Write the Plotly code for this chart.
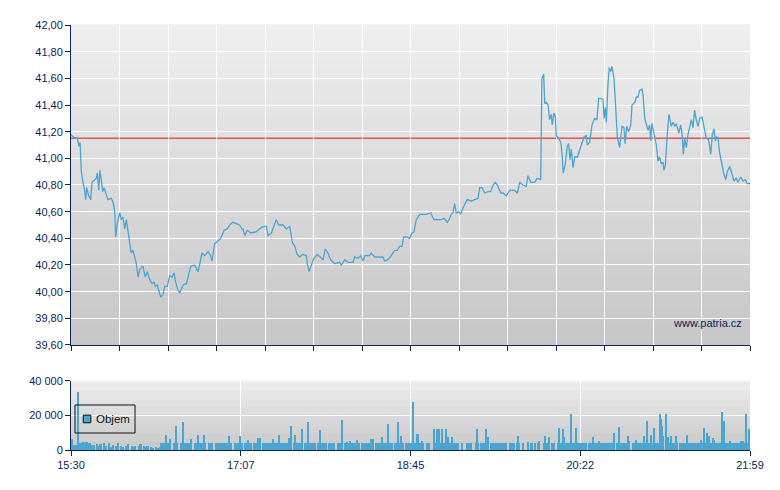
import plotly.graph_objects as go

# ---------------- data ----------------
# price: minutes after 15:30 and price
price_time = [
    0, 1.1, 3.6, 4.6, 5.2, 5.9, 6.9, 7.8, 8.4, 9.0,
    10.1, 11.3, 12.0, 14.5, 15.1, 15.9, 16.6, 17.4, 18.2, 18.9,
    20.2, 21.2, 23.1, 24.1, 25.0, 25.6, 26.5, 27.9, 28.8, 29.8,
    30.8, 31.7, 32.7, 33.6, 34.5, 35.5, 36.5, 37.4, 38.4, 39.4,
    41.2, 42.6, 43.7, 45.1, 46.4, 47.6, 48.3, 49.4, 50.2, 51.4,
    52.7, 53.7, 55.2, 56.5, 57.9, 59.0, 60.0, 61.3, 62.3, 64.2,
    66.1, 67.0, 68.6, 70.9, 72.8, 73.7, 75.0, 76.6, 78.5, 80.0,
    80.8, 82.3, 83.8, 85.8, 87.7, 89.5, 90.9, 92.8, 94.7, 96.6,
    98.0,
    98.5, 99.5, 101.0, 103.0, 106.2, 109.0, 110.6, 111.9, 112.9, 114.8,
    116.3, 117.6, 119.0, 121.5, 123.3, 125.3, 126.8, 128.2, 129.6, 131.0,
    132.9, 134.8, 135.4, 136.4, 137.7, 139.2, 141.1, 143.1, 144.4, 145.7,
    147.2, 148.8, 151.1, 153.9, 154.9, 156.8, 158.7, 161.6, 162.5, 164.4,
    166.0, 167.3, 168.3, 171.1, 172.0, 174.0, 178.7, 179.7, 181.6, 183.5,
    185.4, 186.9, 188.3, 189.6, 190.6, 192.1, 194.0, 195.4,
    196.5, 197.8, 199.8, 201.7, 203.6, 206.1, 207.9, 210.3, 212.1, 213.7,
    215.6, 217.0, 217.9, 218.8, 219.8, 220.7, 222.1, 223.3, 224.6, 227.0,
    229.3, 231.3, 233.2, 234.1, 235.5, 237.0, 238.9, 240.4, 241.8, 243.1,
    244.6, 246.2, 247.5, 249.4, 251.3, 254.2, 255.7, 257.1, 258.9, 260.8,
    261.8, 263.4, 265.6, 267.1, 269.1, 269.8, 270.8, 271.4, 272.3, 273.3,
    274.2, 275.2, 275.7, 276.7, 277.5, 278.0, 279.4, 280.6, 281.3, 282.0,
    283.2, 284.3, 285.1, 285.9, 286.6, 287.6, 288.6, 290.1, 291.4, 292.8,
    293.9, 295.2, 295.8, 297.1, 298.5, 300.0, 301.3, 302.3, 303.8, 304.8,
    305.4, 306.1, 306.7, 307.6, 308.4, 309.2, 309.9, 311.1, 312.1, 313.0,
    314.3, 315.7, 316.8, 317.4, 318.4, 319.5, 320.7, 321.4, 323.0, 323.9,
    324.8, 325.8, 327.1, 327.7, 328.7, 329.6, 330.6, 331.5, 332.1, 332.8,
    334.0, 335.3, 336.3, 337.2, 338.2, 339.2, 339.7, 340.5, 341.6, 342.6,
    343.9, 344.9, 345.9, 346.8, 348.2, 349.3, 350.1, 350.8, 351.6, 352.5,
    353.5, 354.5, 355.4, 356.3, 357.3, 358.2, 359.2, 360.2, 361.5, 362.6,
    364.0, 365.3, 366.5, 367.4, 368.4, 369.1, 369.9, 370.7, 371.6, 373.0,
    373.9, 375.1, 376.0, 377.4, 378.7, 379.8, 381.1, 382.1, 383.7, 385.0,
    386.3, 387.5, 389.0,
]
price_value = [
    41.18, 41.16, 41.15, 41.09, 41.12, 40.90, 40.82, 40.76, 40.69, 40.78,
    40.72, 40.69, 40.82, 40.85, 40.89, 40.76, 40.91, 40.81, 40.75, 40.78,
    40.72, 40.69, 40.70, 40.67, 40.61, 40.41, 40.51, 40.59, 40.54, 40.56,
    40.47, 40.54, 40.45, 40.35, 40.29, 40.31, 40.26, 40.21, 40.11, 40.17,
    40.19, 40.11, 40.15, 40.09, 40.06, 40.07, 40.04, 40.05, 40.01, 39.96,
    39.98, 40.04, 40.04, 40.12, 40.11, 40.14, 40.07, 40.01, 39.99, 40.05,
    40.06, 40.11, 40.19, 40.20, 40.15, 40.20, 40.29, 40.27, 40.30, 40.27,
    40.23, 40.36, 40.38, 40.40, 40.46, 40.47, 40.50, 40.52, 40.51, 40.50,
    40.47,
    40.47, 40.42, 40.46, 40.44, 40.45, 40.48, 40.49, 40.49, 40.42, 40.44,
    40.49, 40.54, 40.50, 40.50, 40.47, 40.49, 40.37, 40.34, 40.28, 40.26,
    40.28, 40.27, 40.21, 40.15, 40.20, 40.25, 40.28, 40.26, 40.24, 40.32,
    40.29, 40.24, 40.21, 40.22, 40.20, 40.24, 40.22, 40.22, 40.26, 40.25,
    40.27, 40.23, 40.27, 40.27, 40.29, 40.26, 40.26, 40.23, 40.24, 40.27,
    40.31, 40.31, 40.34, 40.34, 40.41, 40.41, 40.40, 40.44,
    40.45, 40.54, 40.58, 40.58, 40.58, 40.59, 40.54, 40.54, 40.54, 40.55,
    40.52, 40.55, 40.58, 40.59, 40.66, 40.59, 40.60, 40.58, 40.63, 40.69,
    40.68, 40.69, 40.70, 40.78, 40.78, 40.74, 40.75, 40.75, 40.80, 40.82,
    40.79, 40.74, 40.74, 40.72, 40.76, 40.76, 40.74, 40.82, 40.80, 40.79,
    40.87, 40.82, 40.82, 40.85, 40.84, 41.60, 41.63, 41.41, 41.42, 41.40,
    41.29, 41.33, 41.25, 41.34, 41.31, 41.17, 41.15, 41.12, 41.04, 40.89,
    40.96, 41.09, 41.11, 40.99, 41.07, 40.93, 41.01, 41.01, 41.06, 41.12,
    41.16, 41.17, 41.10, 41.12, 41.25, 41.30, 41.29, 41.45, 41.45, 41.44,
    41.30, 41.38, 41.27, 41.55, 41.68, 41.65, 41.69, 41.60, 41.40, 41.16,
    41.08, 41.24, 41.23, 41.11, 41.24, 41.20, 41.25, 41.40, 41.42, 41.46,
    41.46, 41.51, 41.52, 41.48, 41.30, 41.26, 41.21, 41.25, 41.13, 41.26,
    41.19, 41.10, 40.98, 41.01, 40.96, 40.97, 40.91, 40.95, 41.18, 41.33,
    41.24, 41.27, 41.24, 41.26, 41.19, 41.25, 41.18, 41.03, 41.15, 41.08,
    41.18, 41.24, 41.29, 41.23, 41.36, 41.29, 41.24, 41.30, 41.31, 41.24,
    41.15, 41.14, 41.03, 41.18, 41.22, 41.13, 41.16, 41.15, 41.04, 40.95,
    40.89, 40.84, 40.90, 40.94, 40.87, 40.83, 40.85, 40.82, 40.86, 40.83,
    40.84, 40.81, 40.81,
]
reference_price = 41.15

# volume per minute (base trading) and isolated large prints
volume_minute = [
    3500, 3000, 3000, 3200, 4200, 4200, 3900, 4800, 4200, 4800,
    3800, 4300, 2900, 3200, 0, 3300, 2400, 3500, 0, 3800,
    2200, 0, 3800, 1500, 2900, 0, 2400, 3800, 0, 2400,
    1500, 0, 2400, 3500, 0, 2400, 1500, 2400, 0, 2400,
    3500, 0, 2400, 1500, 2400, 0, 1900, 1000, 0, 1500,
    1000, 2000, 4200, 4200, 4200, 4200, 4200, 4200, 0, 4200,
    4200, 4200, 0, 4200, 4200, 4200, 4200, 4200, 4200, 4200,
    0, 4200, 4200, 4200, 4200, 4200, 4200, 4200, 0, 4200,
    4200, 4200, 0, 4200, 4200, 4200, 4200, 4200, 4200, 4200,
    4200, 4200, 4200, 0, 4200, 4200, 4200, 4200, 4200, 0,
    4200, 4200, 4200, 4200, 0, 4200, 4200, 4200, 4200, 0,
    4200, 4200, 4200, 4200, 4200, 4200, 4200, 4200, 4200, 4200,
    4200, 4200, 4200, 4200, 4200, 4200, 4200, 0, 4200, 4200,
    4200, 4200, 4200, 0, 4200, 4200, 4200, 4200, 4200, 4200,
    4200, 0, 4200, 4200, 4200, 4200, 4200, 0, 4200, 4200,
    4200, 4200, 0, 4200, 4200, 4200, 0, 4200, 4200, 4200,
    4200, 4200, 4200, 4200, 4200, 4200, 0, 4200, 4200, 4200,
    4200, 4200, 4200, 4200, 0, 4200, 4200, 4200, 4200, 4200,
    4200, 4200, 4200, 4200, 4200, 0, 4200, 4200, 4200, 4200,
    4200, 0, 4200, 4200, 4200, 4200, 4200, 4200, 4200, 4200,
    4200, 4200, 4200, 0, 4200, 4200, 0, 0, 4200, 4200,
    4200, 4200, 4200, 4200, 4200, 4200, 0, 4200, 0, 4200,
    4200, 4200, 4200, 0, 4200, 0, 0, 4200, 4200, 4200,
    0, 0, 4200, 4200, 0, 4200, 4200, 4200, 4200, 4200,
    0, 4200, 4200, 4200, 4200, 4200, 4200, 4200, 4200, 4200,
    0, 0, 4200, 4200, 4200, 0, 4200, 4200, 0, 4200,
    0, 0, 4200, 0, 4200, 0, 4200, 0, 4200, 0,
    0, 4200, 0, 4200, 4200, 0, 4200, 4200, 0, 4200,
    4200, 4200, 4200, 0, 4200, 4200, 4200, 4200, 4200, 4200,
    4200, 4200, 4200, 4200, 4200, 4200, 0, 4200, 4200, 4200,
    4200, 4200, 4200, 0, 4200, 4200, 4200, 4200, 4200, 4200,
    4200, 4200, 0, 4200, 4200, 4200, 4200, 4200, 4200, 4200,
    4200, 0, 4200, 4200, 4200, 4200, 4200, 4200, 4200, 4200,
    4200, 4200, 4200, 4200, 4200, 4200, 4200, 4200, 4200, 4200,
    0, 4200, 4200, 4200, 4200, 4200, 4200, 4200, 0, 4200,
    4200, 4200, 4200, 4200, 4200, 4200, 4200, 4200, 4200, 4200,
    4200, 4200, 4200, 4200, 4200, 4200, 4200, 4200, 4200, 4200,
    4200, 4200, 4200, 4200, 4200, 4200, 4200, 4200, 0, 4200,
    4200, 4200, 4200, 4200, 4200, 4200, 4200, 4200, 4200, 4200,
]
block_time = [
    0.7, 3.8, 54.3, 56.7, 60.3, 64.3, 68.7, 72.6, 76.2, 90.7,
    96.8, 101.6, 107.3, 108.3, 115.6, 119.3, 124.7, 126.0, 128.2, 132.2,
    135.9, 142.7, 155.1, 158.0, 159.8, 163.7, 171.9, 172.8, 178.3, 181.8,
    187.1, 188.9, 196.1, 198.0, 199.0, 200.9, 208.1, 209.5, 211.0, 212.4,
    214.7, 216.2, 218.5, 232.8, 237.6, 238.8, 255.9, 261.6, 268.3, 271.7,
    273.7, 279.7, 282.0, 282.6, 286.6, 289.3, 298.8, 302.6, 311.0, 314.1,
    319.2, 319.8, 323.7, 328.4, 330.1, 332.2, 333.9, 337.4, 337.9, 338.7,
    339.3, 341.0, 341.8, 343.7, 346.6, 352.7, 360.9, 362.8, 364.2, 365.7,
    367.6, 368.5, 373.1, 374.3, 377.5, 383.6, 384.8, 386.5, 388.6,
]
block_volume = [
    6400, 33500, 8500, 6200, 13800, 16300, 6200, 8700, 8500, 8100,
    8100, 5800, 6900, 6900, 6400, 8700, 7100, 13800, 8700, 12100,
    16300, 11500, 17300, 4800, 5200, 5800, 6400, 6400, 7700, 15000,
    16300, 8100, 27900, 9200, 9200, 5400, 12100, 12100, 12100, 12100,
    12100, 7700, 7300, 12100, 12100, 7700, 8100, 4800, 5200, 8100,
    7700, 12500, 12100, 7700, 20800, 12500, 7300, 5400, 10000, 13500,
    8100, 5400, 5800, 8100, 16700, 8700, 12500, 20800, 17900, 13800,
    8100, 20800, 7700, 8100, 8100, 8700, 5800, 12500, 10000, 8100,
    6700, 5800, 22100, 16700, 5400, 5200, 5200, 20800, 12100,
]

session_minutes = 389
time_labels = ["15:30", "17:07", "18:45", "20:22", "21:59"]
legend_name = "Objem"
watermark = "www.patria.cz"

# ---------------- styling ----------------
NAVY = "#0b2458"
LINE = "#4aa5d0"
BAR = "#48a6d0"
FONT = "Liberation Sans, Arial, sans-serif"

top_ticks = [session_minutes * i / 14 for i in range(15)]
label_ticks = [session_minutes * i / 4 for i in range(5)]

fig = go.Figure()
fig.add_trace(go.Scatter(
    x=price_time, y=price_value, mode="lines",
    line=dict(color=LINE, width=1.3), xaxis="x", yaxis="y",
    showlegend=False, hoverinfo="skip"))
fig.add_trace(go.Bar(
    x=list(range(len(volume_minute))), y=volume_minute, name=legend_name,
    marker=dict(color=BAR, line=dict(width=0)),
    xaxis="x2", yaxis="y2", showlegend=False))
fig.add_trace(go.Bar(
    x=block_time, y=block_volume, width=0.6, name=legend_name,
    marker=dict(color=BAR, line=dict(width=0)),
    xaxis="x2", yaxis="y2", showlegend=False))

# gradient backgrounds
shapes = []
n_bands = 60
for axx, axy in (("x", "y"), ("x2", "y2")):
    for i in range(n_bands):
        f = i / (n_bands - 1)
        g = round(198 + (239 - 198) * f)
        shapes.append(dict(
            type="rect", xref=f"{axx} domain", yref=f"{axy} domain",
            x0=0, x1=1, y0=i / n_bands, y1=(i + 1) / n_bands + 0.002,
            fillcolor=f"rgb({g},{g},{g})", line=dict(width=0), layer="below"))
shapes.append(dict(
    type="line", xref="x domain", yref="y", x0=0, x1=1,
    y0=reference_price, y1=reference_price,
    line=dict(color="#e25555", width=1.5), layer="below"))

# compact legend box inside the volume panel
shapes.append(dict(type="rect", xref="paper", yref="paper",
                   x0=0.0059, x1=0.0943, y0=0.040, y1=0.1059,
                   line=dict(color="#111111", width=1), fillcolor="rgba(0,0,0,0)"))
shapes.append(dict(type="rect", xref="paper", yref="paper",
                   x0=0.0180, x1=0.0292, y0=0.0640, y1=0.0820,
                   line=dict(color="#111111", width=1), fillcolor=BAR))

axis_common = dict(
    showline=True, linecolor=NAVY, linewidth=1,
    ticks="outside", ticklen=5, tickcolor=NAVY, tickwidth=1,
    tickfont=dict(family=FONT, size=11, color=NAVY),
    showgrid=True, gridcolor="#ffffff", gridwidth=1, zeroline=False,
)

fig.update_layout(
    width=780, height=490,
    margin=dict(l=71, r=30, t=25, b=40),
    paper_bgcolor="#ffffff", plot_bgcolor="#d8d8d8",
    separators=", ",
    barmode="overlay", bargap=0,
    font=dict(family=FONT, size=11, color=NAVY),
    shapes=shapes,
    showlegend=False,
    xaxis=dict(axis_common, domain=[0, 1], anchor="y", range=[0, session_minutes],
               tickvals=top_ticks, showticklabels=False),
    yaxis=dict(axis_common, domain=[0.2471, 1], anchor="x", range=[39.6, 42.0],
               tick0=39.6, dtick=0.2, tickformat=".2f"),
    xaxis2=dict(axis_common, domain=[0, 1], anchor="y2", range=[0, session_minutes],
                tickvals=label_ticks, ticktext=time_labels),
    yaxis2=dict(axis_common, domain=[0, 0.1624], anchor="x2", range=[0, 40000],
                tickvals=[0, 20000, 40000], tickformat=",d"),
    annotations=[
        dict(text=watermark, xref="x domain", yref="y domain", x=1, y=0.069,
             xanchor="right", yanchor="middle", xshift=-6, showarrow=False,
             font=dict(family=FONT, size=11, color=NAVY)),
        dict(text=legend_name, xref="paper", yref="paper", x=0.0340, y=0.0729,
             xanchor="left", yanchor="middle", showarrow=False,
             font=dict(family=FONT, size=11.5, color="#111111")),
    ],
)

fig.write_html("out.html")
